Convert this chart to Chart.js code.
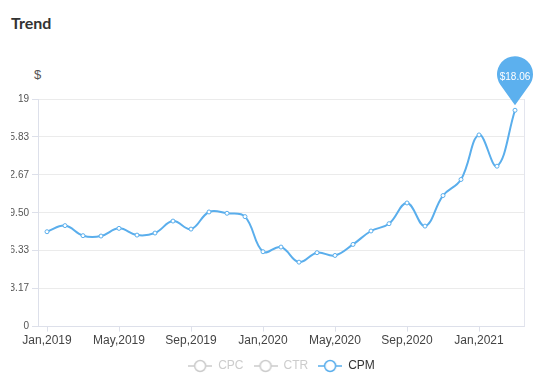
<!DOCTYPE html>
<html>
<head>
<meta charset="utf-8">
<script src="https://cdn.jsdelivr.net/npm/chart.js@4.4.1/dist/chart.umd.min.js"></script>
<style>
  body { margin: 0; background: #fff; font-family: Arial, "Liberation Sans", sans-serif; }
  #title { position: absolute; left: 11px; top: 13px; font: bold 16px Lato, sans-serif; color: #333; }
  #unit { position: absolute; left: 34px; top: 67px; font-size: 13px; color: #555; }
  #wrap { position: absolute; left: 11px; top: 40px; width: 526px; height: 345px; }
</style>
</head>
<body>
<div id="title">Trend</div>
<div id="unit">$</div>
<div id="wrap"><canvas id="trendChart"></canvas></div>
<script>
const months = [
  "Jan,2019", "Feb,2019", "Mar,2019", "Apr,2019", "May,2019", "Jun,2019",
  "Jul,2019", "Aug,2019", "Sep,2019", "Oct,2019", "Nov,2019", "Dec,2019",
  "Jan,2020", "Feb,2020", "Mar,2020", "Apr,2020", "May,2020", "Jun,2020",
  "Jul,2020", "Aug,2020", "Sep,2020", "Oct,2020", "Nov,2020", "Dec,2020",
  "Jan,2021", "Feb,2021", "Mar,2021"
];
const cpmValues = [
  7.92, 8.43, 7.59, 7.56, 8.2, 7.64, 7.81, 8.81, 8.14, 9.57, 9.46, 9.18,
  6.25, 6.64, 5.38, 6.17, 5.94, 6.86, 7.98, 8.59, 10.32, 8.39, 10.94, 12.28,
  16.0, 13.39, 18.06
];
const cpcValues = [];
const ctrValues = [];
const yTickLabels = ["0", "3.17", "6.33", "9.50", "12.67", "15.83", "19"];

const blue = "#5aaeec";
const grey = "#cccccc";

// legend symbol: line with hollow circle
function legendIcon(color) {
  const c = document.createElement("canvas");
  c.width = 24;
  c.height = 14;
  const g = c.getContext("2d");
  g.strokeStyle = color;
  g.lineWidth = 1.5;
  g.beginPath();
  g.moveTo(0, 7); g.lineTo(6, 7);
  g.moveTo(18, 7); g.lineTo(24, 7);
  g.stroke();
  g.beginPath();
  g.arc(12, 7, 5.5, 0, Math.PI * 2);
  g.fillStyle = "#fff";
  g.fill();
  g.stroke();
  return c;
}

// balloon over the last point + right border of plot
const balloonPlugin = {
  id: "balloon",
  afterLayout(chart) {
    // legend sits centred under the plot, not the whole canvas
    chart.legend.left += 14;
    chart.legend.right += 14;
  },
  beforeDatasetsDraw(chart) {
    const a = chart.chartArea;
    const ctx = chart.ctx;
    ctx.save();
    ctx.strokeStyle = "#e3e5ee";
    ctx.lineWidth = 1;
    ctx.beginPath();
    ctx.moveTo(a.right + 0.5, a.top);
    ctx.lineTo(a.right + 0.5, a.bottom);
    ctx.stroke();
    ctx.restore();
  },
  afterDatasetsDraw(chart) {
    const meta = chart.getDatasetMeta(2);
    const pt = meta.data[meta.data.length - 1];
    if (!pt) return;
    const ctx = chart.ctx;
    const r = 18;
    const tipY = pt.y - 5;
    const cy = pt.y - 36;
    const cx = pt.x;
    const phi = Math.acos(r / (tipY - cy));
    ctx.save();
    ctx.fillStyle = "#5cb0ee";
    ctx.beginPath();
    ctx.arc(cx, cy, r, Math.PI / 2 + phi, Math.PI * 2 + Math.PI / 2 - phi);
    ctx.lineTo(cx, tipY);
    ctx.closePath();
    ctx.fill();
    ctx.fillStyle = "#fff";
    ctx.font = "10px Arial";
    ctx.textAlign = "center";
    ctx.textBaseline = "middle";
    ctx.fillText("$" + cpmValues[cpmValues.length - 1].toFixed(2), cx, cy + 3);
    ctx.restore();
  }
};

const ctx = document.getElementById("trendChart").getContext("2d");
new Chart(ctx, {
  type: "line",
  data: {
    labels: months,
    datasets: [
      { label: "CPC", data: cpcValues, borderColor: grey },
      { label: "CTR", data: ctrValues, borderColor: grey },
      {
        label: "CPM",
        data: cpmValues,
        borderColor: blue,
        borderWidth: 2,
        tension: 0.4,
        pointRadius: 2,
        pointBorderWidth: 1,
        pointBackgroundColor: "#fff",
        pointBorderColor: blue,
      },
    ],
  },
  options: {
    responsive: true,
    maintainAspectRatio: false,
    animation: false,
    layout: { padding: { top: 59, right: 13, bottom: 3, left: 0 } },
    plugins: {
      tooltip: { enabled: false },
      legend: {
        position: "bottom",
        labels: {
          usePointStyle: true,
          pointStyleWidth: 24,
          padding: 10,
          font: { size: 12, family: "Arial" },
          generateLabels(chart) {
            return chart.data.datasets.map((ds, i) => ({
              text: ds.label,
              fontColor: ds.label === "CPM" ? "#333" : grey,
              pointStyle: legendIcon(ds.label === "CPM" ? blue : grey),
              hidden: false,
              datasetIndex: i,
              lineWidth: 0,
            }));
          },
        },
      },
    },
    scales: {
      x: {
        offset: true,
        grid: { drawOnChartArea: false, tickLength: 5, color: "#dde0ea" },
        border: { color: "#dde0ea" },
        ticks: {
          autoSkip: false,
          maxRotation: 0,
          padding: 2,
          color: "#444",
          font: { size: 12, family: "Arial" },
          callback(value, index) {
            return index % 4 === 0 ? months[index] : null;
          },
        },
      },
      y: {
        min: 0,
        max: 19,
        afterFit(scale) { scale.width = 27; },
        grid: { color: "#ebebeb", tickLength: 6, tickColor: "#dde0ea" },
        border: { color: "#dde0ea" },
        ticks: {
          count: 7,
          padding: 3,
          color: "#555",
          font: { size: 10, family: "Arial" },
          callback(value, index) {
            return yTickLabels[index];
          },
        },
      },
    },
  },
  plugins: [balloonPlugin],
});
</script>
</body>
</html>
